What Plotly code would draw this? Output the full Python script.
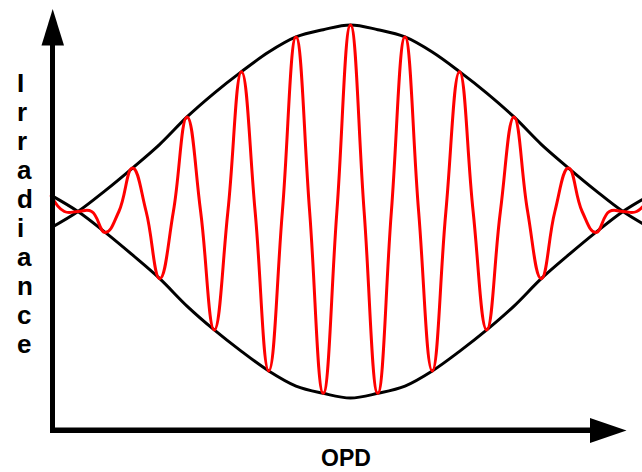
import plotly.graph_objects as go

W, H = 642, 472

# OPD in fringe orders (wavelengths), sampled at half-fringe steps
opd = [-5.5, -5.0, -4.5, -4.0, -3.5, -3.0, -2.5, -2.0, -1.5, -1.0, -0.5, 0.0,
       0.5, 1.0, 1.5, 2.0, 2.5, 3.0, 3.5, 4.0, 4.5, 5.0, 5.5]

# Envelope curves (irradiance, mean level = 1)
upper_env = [0.912, 1.000, 1.112, 1.233, 1.360, 1.507, 1.635, 1.750, 1.855, 1.936, 1.975, 2.000,
             1.975, 1.936, 1.855, 1.750, 1.635, 1.507, 1.360, 1.233, 1.112, 1.000, 0.912]
lower_env = [1.088, 1.000, 0.888, 0.767, 0.640, 0.493, 0.365, 0.250, 0.145, 0.064, 0.025, 0.000,
             0.025, 0.064, 0.145, 0.250, 0.365, 0.493, 0.640, 0.767, 0.888, 1.000, 1.088]

# Fringe (red) extrema at the same OPD positions, and the mean level it crosses between them
fringe_extrema = [1.088, 1.000, 0.888, 1.233, 0.640, 1.507, 0.365, 1.750, 0.145, 1.936, 0.025, 2.000,
                  0.025, 1.936, 0.145, 1.750, 0.365, 1.507, 0.640, 1.233, 0.888, 1.000, 1.088]
mean_level = 1.0

y_label = "Irradiance"
x_label = "OPD"

# build the red trace: extrema with mean-level crossings between them
fx, fy = [], []
for i in range(len(opd)):
    fx.append(opd[i])
    fy.append(fringe_extrema[i])
    if i < len(opd) - 1:
        fx.append((opd[i] + opd[i + 1]) / 2)
        fy.append(mean_level)

fig = go.Figure()
fig.add_trace(go.Scatter(x=opd, y=upper_env, mode="lines",
                         line=dict(color="black", width=3, shape="spline"), hoverinfo="skip"))
fig.add_trace(go.Scatter(x=opd, y=lower_env, mode="lines",
                         line=dict(color="black", width=3, shape="spline"), hoverinfo="skip"))
fig.add_trace(go.Scatter(x=fx, y=fy, mode="lines",
                         line=dict(color="#ff0000", width=3, shape="spline", smoothing=1.3),
                         hoverinfo="skip"))

# pixel calibration of the plot
X0, K = 350.5, 54.5      # pixel of OPD 0, pixels per fringe
Y0, S = 211.5, 186.5     # pixel of mean level, pixels per irradiance unit


def P(x, y):
    return x / W, 1 - y / H


shapes = []
# axes
ax0, ay0 = P(50, 40); ax1, ay1 = P(55, 433)
shapes.append(dict(type="rect", xref="paper", yref="paper", x0=ax0, x1=ax1, y0=ay1, y1=ay0,
                   fillcolor="black", line=dict(width=0)))
bx0, by0 = P(50, 427.5); bx1, by1 = P(595, 433)
shapes.append(dict(type="rect", xref="paper", yref="paper", x0=bx0, x1=bx1, y0=by1, y1=by0,
                   fillcolor="black", line=dict(width=0)))


def tri(pts):
    q = [P(*p) for p in pts]
    return "M {},{} L {},{} L {},{} Z".format(q[0][0], q[0][1], q[1][0], q[1][1], q[2][0], q[2][1])


shapes.append(dict(type="path", xref="paper", yref="paper",
                   path=tri([(52.7, 9), (41.5, 45.5), (64, 45.5)]),
                   fillcolor="black", line=dict(width=0)))
shapes.append(dict(type="path", xref="paper", yref="paper",
                   path=tri([(626.5, 430.5), (590, 418), (590, 443)]),
                   fillcolor="black", line=dict(width=0)))

annotations = []
font_lbl = dict(family="Liberation Sans, Arial, sans-serif", size=26, color="black")
for i, ch in enumerate(y_label):
    base = 92 + 29 * i
    xx, yy = P(14.5, base - 9)
    annotations.append(dict(text="<b>%s</b>" % ch, xref="paper", yref="paper", x=xx, y=yy,
                            xanchor="left", yanchor="middle", showarrow=False, font=font_lbl))
xx, yy = P(346, H)
annotations.append(dict(text="<b>%s</b>" % x_label, xref="paper", yref="paper", x=xx, y=yy,
                        xanchor="center", yanchor="bottom", showarrow=False, borderpad=0,
                        font=dict(family="Liberation Sans, Arial, sans-serif", size=23, color="black")))

fig.update_layout(
    width=W, height=H, margin=dict(l=0, r=0, t=0, b=0),
    paper_bgcolor="white", plot_bgcolor="white", showlegend=False,
    xaxis=dict(range=[(0 - X0) / K, (W - X0) / K], visible=False, fixedrange=True),
    yaxis=dict(range=[1 - (H - Y0) / S, 1 + Y0 / S], visible=False, fixedrange=True),
    shapes=shapes, annotations=annotations,
)

fig.write_html("out.html", config={"displayModeBar": False},
               post_script="document.body.style.margin='0';")
